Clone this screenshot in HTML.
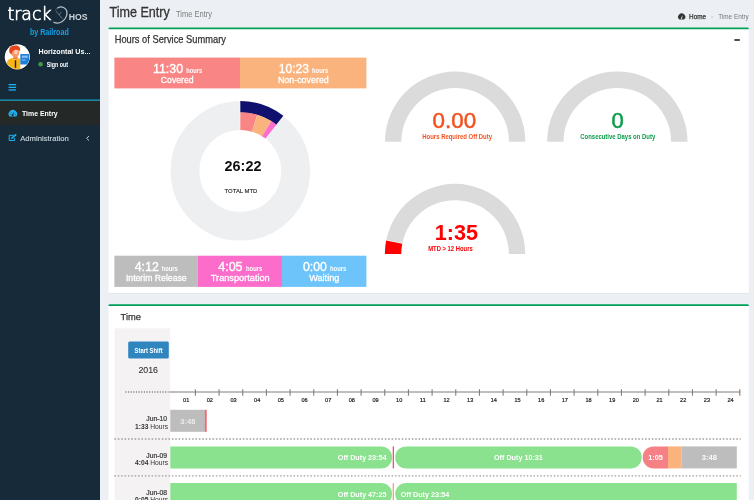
<!DOCTYPE html>
<html lang="en">
<head>
<meta charset="utf-8">
<title>Time Entry</title>
<style>
*{box-sizing:border-box;margin:0;padding:0}
html,body{width:754px;height:500px;overflow:hidden;background:#ecf0f5;font-family:"Liberation Sans",sans-serif;color:#333}
#root{position:relative;width:754px;height:500px;overflow:hidden;background:#ecf0f5}
.a{position:absolute}
.t{position:absolute;white-space:nowrap;line-height:1;transform-origin:0 0}
#side{left:0;top:0;width:100px;height:500px;background:#162a39}
</style>
</head>
<body>
<div id="root">
<svg class="a" style="left:0;top:0" width="754" height="500" viewBox="0 0 754 500">
<rect x="108.5" y="28.6" width="640.3" height="264.8" rx="1.3" fill="#fff"/>
<rect x="108.5" y="293.2" width="640.3" height="0.6" fill="#d9dde2"/>
<path d="M108.5 29.2V28.9a1.3 1.3 0 0 1 1.3-1.3H747.5a1.3 1.3 0 0 1 1.3 1.3V29.2Z" fill="#00a157"/>
<rect x="108.5" y="305" width="640.3" height="200" rx="1.3" fill="#fff"/>
<path d="M108.5 306.1V305.6a1.3 1.3 0 0 1 1.3-1.3H747.5a1.3 1.3 0 0 1 1.3 1.3V306.1Z" fill="#00a157"/>
<rect x="734.4" y="39.2" width="5.4" height="1.6" fill="#222"/>
<rect x="114.4" y="57.6" width="125.6" height="30.8" fill="#f98585"/>
<rect x="240" y="57.6" width="126.4" height="30.8" fill="#fab37c"/>
<circle cx="240.3" cy="170.9" r="55.35" fill="none" stroke="#eeeff1" stroke-width="28.7"/>
<path d="M239.62 99.90A71.00 71.00 0 0 1 284.50 115.33L265.20 139.60A40.00 40.00 0 0 0 239.92 130.90Z" fill="#fff"/>
<path d="M240.30 101.00A69.90 69.90 0 0 1 283.33 115.82L276.32 124.80A58.50 58.50 0 0 0 240.30 112.40Z" fill="#10106e"/>
<path d="M240.30 112.20A58.70 58.70 0 0 1 257.17 114.68L252.08 131.63A41.00 41.00 0 0 0 240.30 129.90Z" fill="#f98585"/>
<path d="M257.17 114.68A58.70 58.70 0 0 1 271.41 121.12L262.03 136.13A41.00 41.00 0 0 0 252.08 131.63Z" fill="#fab37c"/>
<path d="M271.41 121.12A58.70 58.70 0 0 1 276.44 124.64L265.54 138.59A41.00 41.00 0 0 0 262.03 136.13Z" fill="#fc6dcb"/>
<rect x="114.4" y="255.7" width="83.5" height="31.2" fill="#bdbdbd"/>
<rect x="197.9" y="255.7" width="84.1" height="31.2" fill="#fc6dcb"/>
<rect x="282" y="255.7" width="84.4" height="31.2" fill="#6cc4fb"/>
<path d="M384.95 141.70A70.20 70.20 0 0 1 525.35 141.70L508.95 141.70A53.80 53.80 0 0 0 401.35 141.70Z" fill="#dbdbdb"/>
<path d="M547.10 141.70A70.20 70.20 0 0 1 687.50 141.70L671.10 141.70A53.80 53.80 0 0 0 563.50 141.70Z" fill="#dbdbdb"/>
<path d="M384.85 254.00A70.20 70.20 0 0 1 525.25 254.00L508.85 254.00A53.80 53.80 0 0 0 401.25 254.00Z" fill="#dbdbdb"/>
<path d="M384.45 254.00A70.60 70.60 0 0 1 385.92 239.68L402.76 243.17A53.40 53.40 0 0 0 401.65 254.00Z" fill="#f4ffff"/>
<path d="M384.85 254.00A70.20 70.20 0 0 1 386.16 240.48L402.26 243.64A53.80 53.80 0 0 0 401.25 254.00Z" fill="#ff0000"/>
<rect x="114.6" y="328.4" width="55.6" height="172" fill="#f4f2f2"/>
<rect x="128.2" y="341.6" width="40.6" height="16.8" rx="1.5" fill="#2f86bf"/>
<line x1="125.3" y1="392" x2="168.5" y2="392" stroke="#4a4545" stroke-width="1.1" stroke-dasharray="1.15 1.5"/>
<line x1="169.3" y1="392" x2="740.4" y2="392" stroke="#857c7c" stroke-width="1.2"/>
<path d="M195.40 389.2V395.8M219.07 389.2V395.8M242.74 389.2V395.8M266.41 389.2V395.8M290.08 389.2V395.8M313.75 389.2V395.8M337.42 389.2V395.8M361.09 389.2V395.8M384.76 389.2V395.8M408.43 389.2V395.8M432.10 389.2V395.8M455.77 389.2V395.8M479.44 389.2V395.8M503.11 389.2V395.8M526.78 389.2V395.8M550.45 389.2V395.8M574.12 389.2V395.8M597.79 389.2V395.8M621.46 389.2V395.8M645.13 389.2V395.8M668.80 389.2V395.8M692.47 389.2V395.8M716.14 389.2V395.8M739.81 389.2V395.8" stroke="#857c7c" stroke-width="1.1" fill="none"/>
<line x1="114.4" y1="439.0" x2="740.8" y2="439.0" stroke="#a39d98" stroke-width="1.3" stroke-dasharray="1.55 1.83"/>
<line x1="114.4" y1="475.8" x2="740.8" y2="475.8" stroke="#a39d98" stroke-width="1.3" stroke-dasharray="1.55 1.83"/>
<rect x="170.3" y="409.8" width="35" height="22" fill="#bdbdbd"/>
<rect x="204.9" y="409.8" width="1.8" height="22" fill="#f4666e"/>
<path d="M170.3 446.4 H381.1 a11.0 11.0 0 0 1 0 22.0 H170.3Z" fill="#8ae28e"/>
<rect x="392.7" y="446.4" width="1.3" height="22" fill="#f0506a"/>
<rect x="395.2" y="446.4" width="246.5" height="22" rx="11.0" fill="#8ae28e"/>
<path d="M653.7 446.4 H668 V468.4 H653.7 a11.0 11.0 0 0 1 0 -22.0 Z" fill="#f58085"/>
<rect x="668" y="446.4" width="13.7" height="22" fill="#fab37c"/>
<rect x="681.7" y="446.4" width="55.1" height="22" fill="#bdbdbd"/>
<path d="M170.3 483.1 H381.1 a11.0 11.0 0 0 1 0 22.0 H170.3Z" fill="#8ae28e"/>
<rect x="392.7" y="483.1" width="1.3" height="22" fill="#f9a45e"/>
<path d="M406.2 483.1 H736.8 V505.1 H406.2 a11.0 11.0 0 0 1 0 -22.0 Z" fill="#8ae28e"/>
<path d="M679.3 19.6A3.55 3.55 0 1 1 684.1 19.6Z" fill="#333"/>
<path d="M681.5 18.2L682.5 15.8" stroke="#ecf0f5" stroke-width="0.6"/>
<circle cx="681.5" cy="18.3" r="0.7" fill="#ecf0f5"/>
</svg>
<div id="side" class="a">
  <svg class="a" style="left:0;top:0" width="100" height="160" viewBox="0 0 100 160">
    <path d="M57.6 8C61.5 5.6 67.6 7.8 66.9 14C66.2 20 59.5 25 53.8 22.3" fill="none" stroke="#b8c0c7" stroke-width="1.25" stroke-linecap="round"/>
    <path d="M57.6 8C56.5 8.6 55.8 9.4 55.3 10.2" fill="none" stroke="#6f7c88" stroke-width="0.6"/>
    <path d="M55.8 10.8L62.4 18.8M61.2 11.8L59.2 15" fill="none" stroke="#8e99a3" stroke-width="0.65"/>
    <circle cx="17.3" cy="56.8" r="13.4" fill="#121f2b"/>
    <circle cx="17.3" cy="56.8" r="12.6" fill="#fff"/>
    <clipPath id="av"><circle cx="17.3" cy="56.8" r="12.3"/></clipPath>
    <g clip-path="url(#av)">
      <rect x="13.3" y="55" width="4.2" height="4.5" fill="#f47a3a"/>
      <ellipse cx="15.2" cy="52.6" rx="4.1" ry="4.8" fill="#f79b6c"/>
      <ellipse cx="16" cy="52" rx="1.8" ry="2.2" fill="#fbd0b8"/>
      <path d="M9.4 52.5C8.4 47.5 11.5 45.2 15 45.6C18.6 45 21 47.6 20 51.2C18 49.6 15.5 49.6 14 50.3C12.5 51 11.6 53 11.6 54.8Z" fill="#e5451a"/>
      <path d="M5.5 70C5.5 61.5 8.5 58 13.3 58L15.4 60.3L17.5 58L20.3 58.8V70Z" fill="#f9b417"/>
      <rect x="14.8" y="60.3" width="1.4" height="7.5" fill="#222"/>
      <rect x="20.3" y="54" width="8.9" height="10.6" rx="0.6" fill="#1f7fd6"/>
      <rect x="21.8" y="55.6" width="6" height="2.2" fill="#8cc0f2"/>
      <rect x="21.8" y="59.5" width="4" height="1" fill="#8cc0f2"/>
    </g>
    <circle cx="40.6" cy="64.3" r="2.3" fill="#3f9a44"/>
    <rect x="8.6" y="84" width="7.5" height="1.3" fill="#1cb0ee"/>
    <rect x="8.6" y="86.7" width="7.5" height="1.3" fill="#1cb0ee"/>
    <rect x="8.6" y="89.3" width="7.5" height="1.3" fill="#1cb0ee"/>
    <rect x="0" y="99.4" width="100" height="1.6" fill="#1d86a3"/>
    <rect x="0" y="101" width="100" height="24.4" fill="#242927"/>
    <path d="M9.3 116.5A4.25 4.25 0 1 1 16.4 116.5Z" fill="#1fb0ee"/>
    <path d="M12.7 115.2L13.8 112.4" stroke="#242927" stroke-width="0.8"/>
    <circle cx="12.6" cy="115.2" r="0.9" fill="#242927"/>
    <path d="M10.2 114.3h0.9M14.8 114.3h0.9M11 112.2l0.5 0.5" stroke="#242927" stroke-width="0.6"/>
    <path d="M13.8 135.3H9.2V140.5H14.6V138" fill="none" stroke="#1cb0ee" stroke-width="1"/>
    <path d="M11.3 138.6L16.2 134.4" stroke="#1cb0ee" stroke-width="1.5"/>
    <path d="M89 136L86.6 138.3L89 140.6" fill="none" stroke="#c8d4dc" stroke-width="0.9"/>
  </svg>
</div>
<svg class="a" style="left:0;top:0" width="754" height="500" viewBox="0 0 754 500" font-family="'Liberation Sans', sans-serif">
<text x="7.50" y="19.60" font-size="17.0" fill="#fff" textLength="43.90" lengthAdjust="spacingAndGlyphs" font-weight="200" font-family="DejaVu Sans, sans-serif" stroke="#fff" stroke-width="0.65">track</text>
<text x="68.80" y="20.20" font-size="9.0" fill="#cfd5da" textLength="18.80" lengthAdjust="spacingAndGlyphs" font-weight="bold">HOS</text>
<text x="29.90" y="34.50" font-size="8.4" fill="#16a2e6" textLength="38.90" lengthAdjust="spacingAndGlyphs" font-weight="bold">by Railroad</text>
<text x="38.50" y="53.90" font-size="7.9" fill="#fff" textLength="51.90" lengthAdjust="spacingAndGlyphs" font-weight="bold">Horizontal Us...</text>
<text x="46.80" y="66.70" font-size="7.2" fill="#fff" textLength="21.20" lengthAdjust="spacingAndGlyphs" font-weight="bold">Sign out</text>
<text x="22.00" y="116.00" font-size="7.9" fill="#fff" textLength="35.70" lengthAdjust="spacingAndGlyphs" font-weight="bold">Time Entry</text>
<text x="20.20" y="140.80" font-size="7.9" fill="#c8d4dc" textLength="48.60" lengthAdjust="spacingAndGlyphs" stroke="#c8d4dc" stroke-width="0.15">Administration</text>
<text x="109.50" y="16.70" font-size="14.0" fill="#333" textLength="60.30" lengthAdjust="spacingAndGlyphs" stroke="#333" stroke-width="0.3">Time Entry</text>
<text x="175.90" y="16.70" font-size="8.2" fill="#7d7d7d" textLength="36.10" lengthAdjust="spacingAndGlyphs">Time Entry</text>
<text x="689.10" y="19.00" font-size="6.6" fill="#333" textLength="16.90" lengthAdjust="spacingAndGlyphs" stroke="#333" stroke-width="0.25">Home</text>
<text x="710.80" y="19.00" font-size="6.0" fill="#bbb" textLength="2.70" lengthAdjust="spacingAndGlyphs">&gt;</text>
<text x="718.30" y="19.00" font-size="6.6" fill="#777" textLength="30.40" lengthAdjust="spacingAndGlyphs">Time Entry</text>
<text x="114.70" y="43.10" font-size="10.1" fill="#333" textLength="111.20" lengthAdjust="spacingAndGlyphs" stroke="#333" stroke-width="0.25">Hours of Service Summary</text>
<text x="152.90" y="72.60" font-size="12.2" fill="#fff" textLength="30.20" lengthAdjust="spacingAndGlyphs" stroke="#fff" stroke-width="0.35">11:30</text>
<text x="186.20" y="72.60" font-size="6.3" fill="#fff" textLength="16.10" lengthAdjust="spacingAndGlyphs" font-weight="bold">hours</text>
<text x="160.80" y="82.85" font-size="9.3" fill="#fff" textLength="32.90" lengthAdjust="spacingAndGlyphs" stroke="#fff" stroke-width="0.3">Covered</text>
<text x="278.80" y="72.60" font-size="12.2" fill="#fff" textLength="30.20" lengthAdjust="spacingAndGlyphs" stroke="#fff" stroke-width="0.35">10:23</text>
<text x="312.00" y="72.60" font-size="6.3" fill="#fff" textLength="16.40" lengthAdjust="spacingAndGlyphs" font-weight="bold">hours</text>
<text x="277.90" y="82.85" font-size="9.3" fill="#fff" textLength="50.90" lengthAdjust="spacingAndGlyphs" stroke="#fff" stroke-width="0.3">Non-covered</text>
<text x="224.60" y="170.60" font-size="14.4" fill="#111" textLength="36.80" lengthAdjust="spacingAndGlyphs" font-weight="bold">26:22</text>
<text x="224.60" y="192.80" font-size="6.0" fill="#222" textLength="32.80" lengthAdjust="spacingAndGlyphs" stroke="#222" stroke-width="0.12">TOTAL MTD</text>
<text x="134.70" y="271.00" font-size="12.2" fill="#fff" textLength="24.10" lengthAdjust="spacingAndGlyphs" stroke="#fff" stroke-width="0.35">4:12</text>
<text x="161.70" y="271.00" font-size="6.3" fill="#fff" textLength="16.10" lengthAdjust="spacingAndGlyphs" font-weight="bold">hours</text>
<text x="125.90" y="281.00" font-size="9.1" fill="#fff" textLength="60.80" lengthAdjust="spacingAndGlyphs" stroke="#fff" stroke-width="0.3">Interim Release</text>
<text x="218.20" y="271.00" font-size="12.2" fill="#fff" textLength="24.40" lengthAdjust="spacingAndGlyphs" stroke="#fff" stroke-width="0.35">4:05</text>
<text x="246.00" y="271.00" font-size="6.3" fill="#fff" textLength="16.30" lengthAdjust="spacingAndGlyphs" font-weight="bold">hours</text>
<text x="210.80" y="281.00" font-size="9.1" fill="#fff" textLength="58.90" lengthAdjust="spacingAndGlyphs" stroke="#fff" stroke-width="0.3">Transportation</text>
<text x="302.90" y="271.00" font-size="12.2" fill="#fff" textLength="23.90" lengthAdjust="spacingAndGlyphs" stroke="#fff" stroke-width="0.35">0:00</text>
<text x="330.00" y="271.00" font-size="6.3" fill="#fff" textLength="16.30" lengthAdjust="spacingAndGlyphs" font-weight="bold">hours</text>
<text x="309.20" y="281.00" font-size="9.1" fill="#fff" textLength="30.20" lengthAdjust="spacingAndGlyphs" stroke="#fff" stroke-width="0.3">Waiting</text>
<text x="432.60" y="128.20" font-size="22" fill="#f4511e" textLength="43.50" lengthAdjust="spacingAndGlyphs" stroke="#f4511e" stroke-width="0.5">0.00</text>
<text x="422.30" y="138.50" font-size="6.4" fill="#f4511e" textLength="69.70" lengthAdjust="spacingAndGlyphs" font-weight="bold">Hours Required Off Duty</text>
<text x="611.50" y="128.00" font-size="22" fill="#0c9d4b" textLength="12.30" lengthAdjust="spacingAndGlyphs" stroke="#0c9d4b" stroke-width="0.5">0</text>
<text x="580.30" y="138.50" font-size="6.4" fill="#0c9d4b" textLength="74.90" lengthAdjust="spacingAndGlyphs" font-weight="bold">Consecutive Days on Duty</text>
<text x="434.70" y="240.00" font-size="22" fill="#f00" textLength="43.30" lengthAdjust="spacingAndGlyphs" font-weight="bold">1:35</text>
<text x="428.20" y="251.10" font-size="6.4" fill="#f00" textLength="44.50" lengthAdjust="spacingAndGlyphs" font-weight="bold">MTD &gt; 12 Hours</text>
<text x="120.60" y="320.20" font-size="9.8" fill="#333" textLength="20.40" lengthAdjust="spacingAndGlyphs" stroke="#333" stroke-width="0.25">Time</text>
<text x="134.60" y="352.80" font-size="7.0" fill="#fff" textLength="28.00" lengthAdjust="spacingAndGlyphs" font-weight="bold">Start Shift</text>
<text x="138.40" y="373.00" font-size="9.3" fill="#333" textLength="19.60" lengthAdjust="spacingAndGlyphs" stroke="#333" stroke-width="0.1">2016</text>
<text x="146.30" y="421.00" font-size="7.2" fill="#333" textLength="20.70" lengthAdjust="spacingAndGlyphs" stroke="#333" stroke-width="0.2">Jun-10</text>
<text x="135.00" y="428.80" font-size="6.8" fill="#333" textLength="33.10" lengthAdjust="spacingAndGlyphs"><tspan font-weight="bold">1:33</tspan> Hours</text>
<text x="180.20" y="424.00" font-size="7.0" fill="#ececec" textLength="15.20" lengthAdjust="spacingAndGlyphs" font-weight="bold">3:48</text>
<text x="146.30" y="457.80" font-size="7.2" fill="#333" textLength="20.70" lengthAdjust="spacingAndGlyphs" stroke="#333" stroke-width="0.2">Jun-09</text>
<text x="135.00" y="465.40" font-size="6.8" fill="#333" textLength="33.10" lengthAdjust="spacingAndGlyphs"><tspan font-weight="bold">4:04</tspan> Hours</text>
<text x="146.30" y="494.50" font-size="7.2" fill="#333" textLength="20.70" lengthAdjust="spacingAndGlyphs" stroke="#333" stroke-width="0.2">Jun-08</text>
<text x="135.00" y="502.20" font-size="6.8" fill="#333" textLength="33.10" lengthAdjust="spacingAndGlyphs"><tspan font-weight="bold">0:05</tspan> Hours</text>
<text x="337.80" y="460.00" font-size="7.4" fill="#fff" textLength="48.70" lengthAdjust="spacingAndGlyphs" font-weight="bold">Off Duty 23:54</text>
<text x="494.00" y="460.00" font-size="7.4" fill="#fff" textLength="48.80" lengthAdjust="spacingAndGlyphs" font-weight="bold">Off Duty 10:31</text>
<text x="648.20" y="460.00" font-size="7.0" fill="#fff" textLength="14.60" lengthAdjust="spacingAndGlyphs" font-weight="bold">1:05</text>
<text x="701.80" y="460.00" font-size="7.0" fill="#fafafa" textLength="15.20" lengthAdjust="spacingAndGlyphs" font-weight="bold">3:48</text>
<text x="337.80" y="496.60" font-size="7.4" fill="#fff" textLength="48.70" lengthAdjust="spacingAndGlyphs" font-weight="bold">Off Duty 47:25</text>
<text x="400.70" y="496.60" font-size="7.4" fill="#fff" textLength="48.60" lengthAdjust="spacingAndGlyphs" font-weight="bold">Off Duty 23:54</text>
<text x="183.05" y="401.50" font-size="5.9" fill="#222" textLength="6.20" lengthAdjust="spacingAndGlyphs" stroke="#222" stroke-width="0.2">01</text>
<text x="206.72" y="401.50" font-size="5.9" fill="#222" textLength="6.20" lengthAdjust="spacingAndGlyphs" stroke="#222" stroke-width="0.2">02</text>
<text x="230.39" y="401.50" font-size="5.9" fill="#222" textLength="6.20" lengthAdjust="spacingAndGlyphs" stroke="#222" stroke-width="0.2">03</text>
<text x="254.06" y="401.50" font-size="5.9" fill="#222" textLength="6.20" lengthAdjust="spacingAndGlyphs" stroke="#222" stroke-width="0.2">04</text>
<text x="277.73" y="401.50" font-size="5.9" fill="#222" textLength="6.20" lengthAdjust="spacingAndGlyphs" stroke="#222" stroke-width="0.2">05</text>
<text x="301.40" y="401.50" font-size="5.9" fill="#222" textLength="6.20" lengthAdjust="spacingAndGlyphs" stroke="#222" stroke-width="0.2">06</text>
<text x="325.07" y="401.50" font-size="5.9" fill="#222" textLength="6.20" lengthAdjust="spacingAndGlyphs" stroke="#222" stroke-width="0.2">07</text>
<text x="348.74" y="401.50" font-size="5.9" fill="#222" textLength="6.20" lengthAdjust="spacingAndGlyphs" stroke="#222" stroke-width="0.2">08</text>
<text x="372.41" y="401.50" font-size="5.9" fill="#222" textLength="6.20" lengthAdjust="spacingAndGlyphs" stroke="#222" stroke-width="0.2">09</text>
<text x="396.08" y="401.50" font-size="5.9" fill="#222" textLength="6.20" lengthAdjust="spacingAndGlyphs" stroke="#222" stroke-width="0.2">10</text>
<text x="419.75" y="401.50" font-size="5.9" fill="#222" textLength="6.20" lengthAdjust="spacingAndGlyphs" stroke="#222" stroke-width="0.2">11</text>
<text x="443.42" y="401.50" font-size="5.9" fill="#222" textLength="6.20" lengthAdjust="spacingAndGlyphs" stroke="#222" stroke-width="0.2">12</text>
<text x="467.09" y="401.50" font-size="5.9" fill="#222" textLength="6.20" lengthAdjust="spacingAndGlyphs" stroke="#222" stroke-width="0.2">13</text>
<text x="490.76" y="401.50" font-size="5.9" fill="#222" textLength="6.20" lengthAdjust="spacingAndGlyphs" stroke="#222" stroke-width="0.2">14</text>
<text x="514.43" y="401.50" font-size="5.9" fill="#222" textLength="6.20" lengthAdjust="spacingAndGlyphs" stroke="#222" stroke-width="0.2">15</text>
<text x="538.10" y="401.50" font-size="5.9" fill="#222" textLength="6.20" lengthAdjust="spacingAndGlyphs" stroke="#222" stroke-width="0.2">16</text>
<text x="561.77" y="401.50" font-size="5.9" fill="#222" textLength="6.20" lengthAdjust="spacingAndGlyphs" stroke="#222" stroke-width="0.2">17</text>
<text x="585.44" y="401.50" font-size="5.9" fill="#222" textLength="6.20" lengthAdjust="spacingAndGlyphs" stroke="#222" stroke-width="0.2">18</text>
<text x="609.11" y="401.50" font-size="5.9" fill="#222" textLength="6.20" lengthAdjust="spacingAndGlyphs" stroke="#222" stroke-width="0.2">19</text>
<text x="632.78" y="401.50" font-size="5.9" fill="#222" textLength="6.20" lengthAdjust="spacingAndGlyphs" stroke="#222" stroke-width="0.2">20</text>
<text x="656.45" y="401.50" font-size="5.9" fill="#222" textLength="6.20" lengthAdjust="spacingAndGlyphs" stroke="#222" stroke-width="0.2">21</text>
<text x="680.12" y="401.50" font-size="5.9" fill="#222" textLength="6.20" lengthAdjust="spacingAndGlyphs" stroke="#222" stroke-width="0.2">22</text>
<text x="703.79" y="401.50" font-size="5.9" fill="#222" textLength="6.20" lengthAdjust="spacingAndGlyphs" stroke="#222" stroke-width="0.2">23</text>
<text x="727.46" y="401.50" font-size="5.9" fill="#222" textLength="6.20" lengthAdjust="spacingAndGlyphs" stroke="#222" stroke-width="0.2">24</text>
</svg>
</div>
</body>
</html>
